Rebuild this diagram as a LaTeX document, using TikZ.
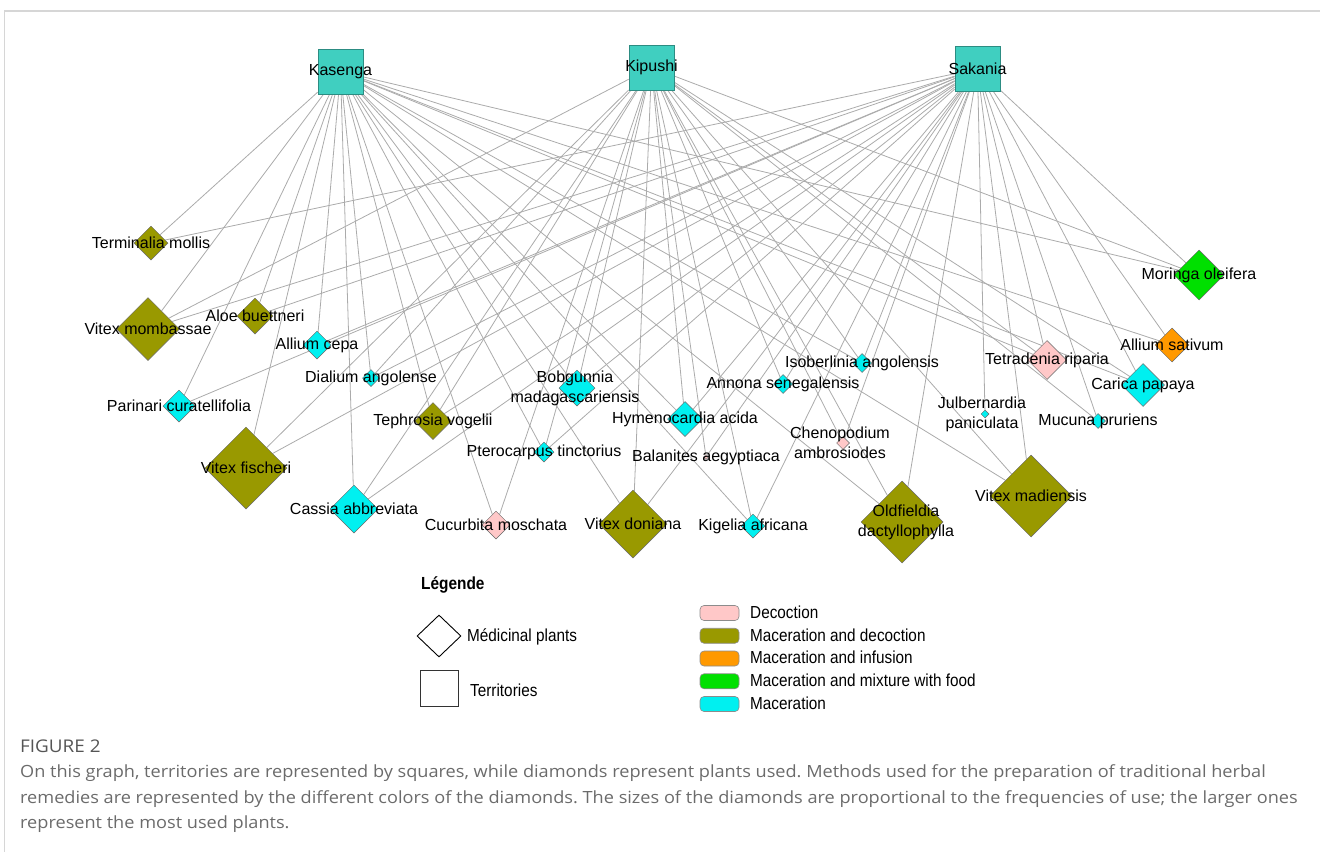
\documentclass[tikz,border=0pt]{standalone}
\usepackage{fontspec}
\setmainfont{Liberation Sans}
\newfontfamily\legfamily[FakeStretch=0.88]{Liberation Sans}
\newfontfamily\capfamily[FakeStretch=1.08]{Open Sans}
\usetikzlibrary{shapes.geometric,backgrounds}
\frenchspacing
\definecolor{terr}{HTML}{40CFC0}
\definecolor{terrline}{HTML}{2C8C82}
\definecolor{olive}{HTML}{999900}
\definecolor{cyanp}{HTML}{00F0F0}
\definecolor{pinkp}{HTML}{FFC8C8}
\definecolor{orangep}{HTML}{FF9900}
\definecolor{greenp}{HTML}{00E000}
\definecolor{edgec}{HTML}{ABABAB}
\definecolor{figgrey}{HTML}{555555}
\definecolor{capgrey}{HTML}{6B6B6B}
\definecolor{frame}{HTML}{D6D6D6}
\newcommand\lblfont{\fontsize{16}{20}\selectfont}
\newcommand\legfont{\legfamily\fontsize{17.4}{20}\selectfont}
\newcommand\capfont{\capfamily\fontsize{16.8}{20}\selectfont}
\tikzset{
  territory/.style={
    draw=terrline, fill=terr, line width=0.7pt,
    minimum size=45pt, inner sep=0pt
  },
  plant/.style={
    diamond, aspect=1, draw=black!60, line width=0.5pt,
    inner sep=0pt, minimum size=#1
  },
  dec/.style={plant=#1, fill=pinkp},
  macdec/.style={plant=#1, fill=olive},
  macinf/.style={plant=#1, fill=orangep},
  macfood/.style={plant=#1, fill=greenp},
  mac/.style={plant=#1, fill=cyanp},
  edge/.style={draw=edgec, line width=0.8pt},
  pill/.style={
    draw=black!45, rounded corners=4pt, line width=0.6pt,
    minimum width=39pt, minimum height=15pt, inner sep=0pt
  },
  legtext/.style={anchor=west, inner sep=0pt, font=\legfont}
}

\begin{document}
\begin{tikzpicture}[x=1pt, y=-1pt,
    every label/.style={font=\lblfont, inner sep=0pt, align=center, text=black}]
  \useasboundingbox (0,0) rectangle (1320,852);
  \draw[frame, line width=1.5pt] (4,11) -- (1320,11);
  \draw[frame, line width=1pt] (4.5,11) -- (4.5,852);

  % territories
  \node[territory, label={center:Kasenga}] (kas) at (340.5,71.5) {};
  \node[territory, label={center:Kipushi}] (kip) at (651.5,67.5) {};
  \node[territory, label={center:Sakania}] (sak) at (977.5,69) {};

  % plants
  \node[macdec=34, label={center:Terminalia mollis}] (tmol) at (151,243) {};
  \node[macdec=63, label={center:Vitex mombassae}] (vmom) at (148,329) {};
  \node[macdec=36, label={center:Aloe buettneri}] (abue) at (255,316) {};
  \node[mac=28, label={center:Allium cepa}] (acep) at (317,345) {};
  \node[mac=17, label={center:Dialium angolense}] (dang) at (371,378) {};
  \node[mac=32, label={center:Parinari curatellifolia}] (pcur) at (179,406) {};
  \node[macdec=37, label={center:Tephrosia vogelii}] (tvog) at (433,421) {};
  \node[macdec=82, label={center:Vitex fischeri}] (vfis) at (246,468) {};
  \node[mac=48, label={center:Cassia abbreviata}] (cabb) at (354,509) {};
  \node[dec=28, label={center:Cucurbita moschata}] (cmos) at (496,525) {};
  \node[mac=36, label={[xshift=-2pt]center:{Bobgunnia\\madagascariensis}}] (bmad) at (577,388) {};
  \node[mac=20, label={center:Pterocarpus tinctorius}] (ptin) at (544,452) {};
  \node[macdec=68, label={center:Vitex doniana}] (vdon) at (633,524) {};
  \node[mac=35, label={center:Hymenocardia acida}] (hacd) at (685,419) {};
  \node[dec=5, label={center:Balanites aegyptiaca}] (baeg) at (706,457) {};
  \node[mac=19, label={center:Annona senegalensis}] (asen) at (783,384) {};
  \node[mac=19, label={center:Isoberlinia angolensis}] (iang) at (862,363) {};
  \node[mac=24, label={center:Kigelia africana}] (kafr) at (753,526) {};
  \node[dec=13, label={[xshift=-3pt]center:{Chenopodium\\ambrosiodes}}] (camb) at (843,443) {};
  \node[macdec=82, label={[xshift=4pt]center:{Oldfieldia\\dactyllophylla}}] (odac) at (902,522) {};
  \node[dec=39, label={center:Tetradenia riparia}] (trip) at (1047,360) {};
  \node[mac=8, label={[xshift=-3pt]center:{Julbernardia\\paniculata}}] (jpan) at (985,414) {};
  \node[mac=15, label={center:Mucuna pruriens}] (mpru) at (1098,421) {};
  \node[macdec=82, label={center:Vitex madiensis}] (vmad) at (1031,496) {};
  \node[macinf=34, label={center:Allium sativum}] (asat) at (1172,345) {};
  \node[mac=43, label={center:Carica papaya}] (cpap) at (1143,385) {};
  \node[macfood=50, label={center:Moringa oleifera}] (mole) at (1199,275) {};

  % links territory -> plant
  \begin{scope}[on background layer]
    \foreach \pl in {tmol,vmom,abue,acep,dang,pcur,tvog,vfis,cabb,cmos,bmad,ptin,vdon,hacd,iang,kafr,odac,trip,vmad,asat,cpap,mole}
      \draw[edge] (kas) -- (\pl);
    \foreach \pl in {vmom,dang,tvog,vfis,cabb,cmos,bmad,ptin,vdon,hacd,baeg,asen,iang,kafr,camb,odac,trip,mpru,vmad,cpap,mole}
      \draw[edge] (kip) -- (\pl);
    \foreach \pl in {tmol,vmom,abue,acep,dang,pcur,tvog,vfis,cabb,bmad,ptin,vdon,hacd,baeg,asen,iang,kafr,camb,odac,trip,jpan,mpru,vmad,asat,cpap,mole}
      \draw[edge] (sak) -- (\pl);
  \end{scope}

  % legend
  \node[anchor=west, inner sep=0pt, font=\legfamily\bfseries\fontsize{17.5}{20}\selectfont] (leghead) at (421,585) {Légende};
  \node[diamond, draw=black, line width=0.9pt, minimum width=44pt, minimum height=42pt, inner sep=0pt] (legplant) at (439,636) {};
  \node[legtext] (legplanttxt) at (467,637) {Médicinal plants};
  \node[draw=black!80, line width=1pt, minimum width=38pt, minimum height=36pt, inner sep=0pt] (legterr) at (439,688) {};
  \node[legtext] (legterrtxt) at (470,690) {Territories};
  \foreach \c/\t [count=\i] in {pinkp/Decoction, olive/Maceration and decoction,
      orangep/Maceration and infusion, greenp/Maceration and mixture with food, cyanp/Maceration} {
    \node[pill, fill=\c] (pill\i) at (719.5, 590.25+22.75*\i) {};
    \node[legtext] (legtxt\i) at (750, 589.5+22.75*\i) {\t};
  }

  % caption
  \node[anchor=base west, inner sep=0pt, font=\capfamily\fontsize{17.5}{20}\selectfont, text=figgrey] (fig) at (20,752) {FIGURE 2};
  \node[anchor=base west, inner sep=0pt, font=\capfont, text=capgrey] (cap1) at (20,777)
    {On this graph, territories are represented by squares, while diamonds represent plants used. Methods used for the preparation of traditional herbal};
  \node[anchor=base west, inner sep=0pt, font=\capfont, text=capgrey] (cap2) at (20,803)
    {remedies are represented by the different colors of the diamonds. The sizes of the diamonds are proportional to the frequencies of use; the larger ones};
  \node[anchor=base west, inner sep=0pt, font=\capfont, text=capgrey] (cap3) at (20,828)
    {represent the most used plants.};
\end{tikzpicture}
\end{document}
